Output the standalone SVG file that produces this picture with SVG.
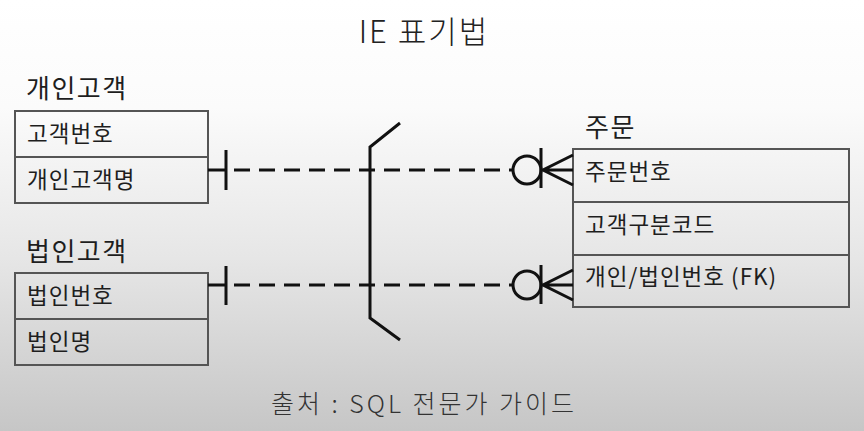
<svg xmlns="http://www.w3.org/2000/svg" width="864" height="431" viewBox="0 0 864 431">
<defs>
<linearGradient id="bg" x1="0" y1="0" x2="0" y2="1">
<stop offset="0" stop-color="#ffffff"/>
<stop offset="0.25" stop-color="#fbfbfb"/>
<stop offset="0.6" stop-color="#e6e6e6"/>
<stop offset="1" stop-color="#c6c6c6"/>
</linearGradient>
<style>
text{font-family:"Noto Sans CJK KR","Noto Sans",sans-serif;fill:#1e1e1e}
.title{font-size:31px;font-weight:300;fill:#222;letter-spacing:2px}
.ent{font-size:26px;font-weight:400;letter-spacing:1.5px}
.attr{font-size:22.5px;font-weight:400;letter-spacing:1px}
.foot{font-size:25px;font-weight:300;fill:#333;letter-spacing:3px}
.box{fill:none;stroke:#555;stroke-width:2}
.div{stroke:#555;stroke-width:2}
.rel{stroke:#111;stroke-width:3;fill:none}
.dash{stroke:#111;stroke-width:3;stroke-dasharray:16 9;fill:none}
</style>
</defs>
<rect x="0" y="0" width="864" height="431" fill="url(#bg)"/>
<text class="title" x="424" y="43" text-anchor="middle">IE 표기법</text>
<g id="personal">
<text class="ent" x="26" y="98">개인고객</text>
<rect class="box" x="15" y="111" width="193" height="92"/>
<line class="div" x1="15" y1="157" x2="208" y2="157"/>
<text class="attr" x="27" y="142">고객번호</text>
<text class="attr" x="27" y="188">개인고객명</text>
</g>
<g id="corporate">
<text class="ent" x="26" y="261">법인고객</text>
<rect class="box" x="15" y="273" width="193" height="92"/>
<line class="div" x1="15" y1="319" x2="208" y2="319"/>
<text class="attr" x="27" y="304">법인번호</text>
<text class="attr" x="27" y="350">법인명</text>
</g>
<g id="order">
<text class="ent" x="585" y="137">주문</text>
<rect class="box" x="573" y="149" width="276" height="158"/>
<line class="div" x1="573" y1="202" x2="849" y2="202"/>
<line class="div" x1="573" y1="255" x2="849" y2="255"/>
<text class="attr" x="585" y="180">주문번호</text>
<text class="attr" x="585" y="233">고객구분코드</text>
<text class="attr" x="585" y="285">개인/법인번호 (FK)</text>
</g>
<g id="connectors">
<path class="rel" d="M400 123 L370 147 L370 318 L400 340"/>
<line class="rel" x1="208" y1="170" x2="226" y2="170"/>
<line class="rel" x1="226" y1="150" x2="226" y2="190"/>
<line class="dash" x1="234" y1="170" x2="513" y2="170"/>
<circle class="rel" cx="527" cy="170" r="14"/>
<line class="rel" x1="541" y1="148" x2="541" y2="188"/>
<path class="rel" d="M573 155 L543 170 L573 185 M541 170 L573 170"/>
<line class="rel" x1="208" y1="285" x2="226" y2="285"/>
<line class="rel" x1="226" y1="266" x2="226" y2="305"/>
<line class="dash" x1="234" y1="285" x2="513" y2="285"/>
<circle class="rel" cx="527" cy="285" r="14"/>
<line class="rel" x1="541" y1="265" x2="541" y2="304"/>
<path class="rel" d="M573 270 L543 285 L573 300 M541 285 L573 285"/>
</g>
<text class="foot" x="424" y="413" text-anchor="middle">출처 : SQL 전문가 가이드</text>
</svg>
